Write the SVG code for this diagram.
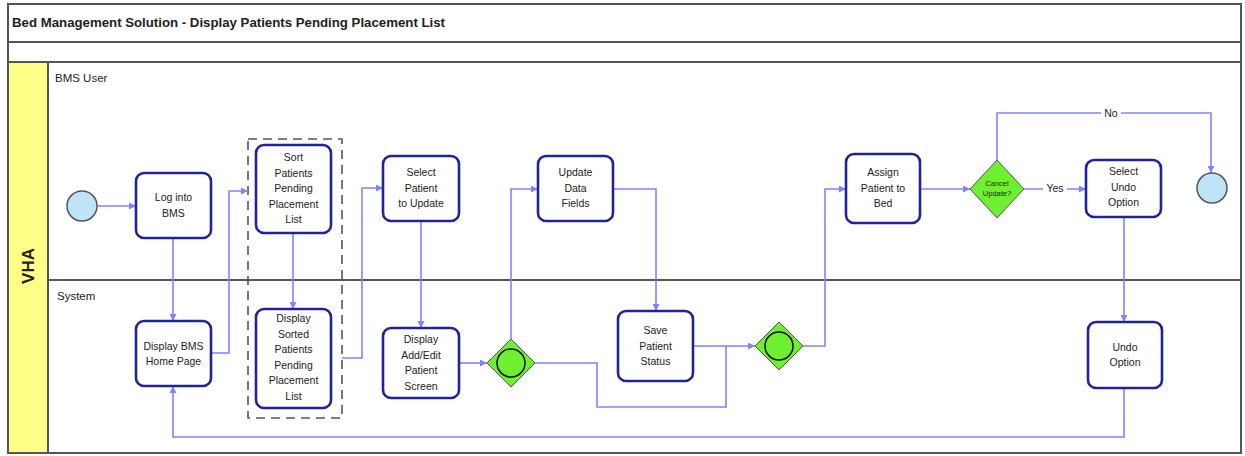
<svg xmlns="http://www.w3.org/2000/svg" width="1245" height="456" viewBox="0 0 1245 456">
<style>
.frame{fill:none;stroke:#555;stroke-width:2}
.task rect{fill:#fff;stroke:#22229a;stroke-width:2.6}
.task text,.lbl{font-family:"Liberation Sans",Arial,sans-serif;font-size:10.5px;fill:#222;text-anchor:middle}
.conn path{fill:none;stroke:#8282ff;stroke-width:1.6}
.gw polygon{fill:#6ef030;stroke:#555;stroke-width:1}
.gw circle{fill:#6ef030;stroke:#111;stroke-width:1.5}
.ev{fill:#bfe4f8;stroke:#555;stroke-width:1.5}
.lane{font-family:"Liberation Sans",Arial,sans-serif;font-size:11.5px;fill:#222}
</style>
<defs>
<marker id="ah" markerUnits="userSpaceOnUse" markerWidth="8" markerHeight="7" refX="7" refY="3.5" orient="auto">
<path d="M0,0 L7,3.5 L0,7 z" fill="#8282ff"/>
</marker>
</defs>
<rect x="0" y="0" width="1245" height="456" fill="#fff"/>
<g id="pool">
<rect x="8" y="62" width="40" height="391" fill="#ffff88"/>
<rect class="frame" x="8" y="4" width="1233" height="449"/>
<line class="frame" x1="8" y1="42" x2="1241" y2="42"/>
<line class="frame" x1="8" y1="62" x2="1241" y2="62"/>
<line class="frame" x1="48" y1="62" x2="48" y2="453"/>
<line class="frame" x1="48" y1="280" x2="1241" y2="280"/>
<text x="12" y="27" font-family="Liberation Sans,Arial,sans-serif" font-size="12px" font-weight="bold" fill="#222" textLength="433" lengthAdjust="spacingAndGlyphs">Bed Management Solution - Display Patients Pending Placement List</text>
<text transform="translate(34,266) rotate(-90)" font-family="Liberation Sans,Arial,sans-serif" font-size="17px" font-weight="bold" fill="#222" text-anchor="middle">VHA</text>
<text class="lane" x="55" y="82">BMS User</text>
<text class="lane" x="57" y="300">System</text>
</g>
<g id="group-sort"><rect x="248" y="139" width="94" height="279" fill="none" stroke="#555" stroke-width="1.6" stroke-dasharray="9,6"/></g>
<g class="conn" id="connectors">
<path d="M97,206 H136" marker-end="url(#ah)"/>
<path d="M173,238 V321" marker-end="url(#ah)"/>
<path d="M211,353 H229 V191 H248" marker-end="url(#ah)"/>
<path d="M293,233 V309" marker-end="url(#ah)"/>
<path d="M342,358 H362 V188 H383" marker-end="url(#ah)"/>
<path d="M421,221 V328" marker-end="url(#ah)"/>
<path d="M459,363 H487" marker-end="url(#ah)"/>
<path d="M511,339 V189 H538" marker-end="url(#ah)"/>
<path d="M613,189 H656 V311" marker-end="url(#ah)"/>
<path d="M693,346 H755" marker-end="url(#ah)"/>
<path d="M535,363 H597 V407 H726 V346"/>
<path d="M803,346 H825 V189 H846" marker-end="url(#ah)"/>
<path d="M920,189 H970" marker-end="url(#ah)"/>
<path d="M1024,189 H1086" marker-end="url(#ah)"/>
<path d="M997,160 V113 H1211 V173" marker-end="url(#ah)"/>
<path d="M1124,217 V322" marker-end="url(#ah)"/>
<path d="M1124,388 V437 H173 V386" marker-end="url(#ah)"/>
<rect x="1043" y="182" width="24" height="13" fill="#fff"/>
<text class="lbl" x="1055" y="192">Yes</text>
<rect x="1101" y="106" width="20" height="13" fill="#fff"/>
<text class="lbl" x="1111" y="117">No</text>
</g>
<g id="start"><circle class="ev" cx="82" cy="206" r="15"/></g>
<g id="end"><circle class="ev" cx="1212" cy="188" r="15"/></g>
<g class="task" id="log-into-bms"><rect x="136" y="173" width="75" height="65" rx="8"/><text x="173.5" y="201">Log into</text><text x="173.5" y="217">BMS</text></g>
<g class="task" id="display-home"><rect x="136" y="321" width="75" height="65" rx="8"/><text x="173.5" y="350">Display BMS</text><text x="173.5" y="365">Home Page</text></g>
<g class="task" id="sort-patients"><rect x="256" y="145" width="75" height="88" rx="8"/><text x="293.5" y="161">Sort</text><text x="293.5" y="176.5">Patients</text><text x="293.5" y="192">Pending</text><text x="293.5" y="207.5">Placement</text><text x="293.5" y="223">List</text></g>
<g class="task" id="display-sorted"><rect x="256" y="309" width="75" height="99" rx="8"/><text x="293.5" y="322">Display</text><text x="293.5" y="337.5">Sorted</text><text x="293.5" y="353">Patients</text><text x="293.5" y="368.5">Pending</text><text x="293.5" y="384">Placement</text><text x="293.5" y="400">List</text></g>
<g class="task" id="select-patient"><rect x="383" y="156" width="76" height="65" rx="8"/><text x="421" y="176">Select</text><text x="421" y="191.5">Patient</text><text x="421" y="207">to Update</text></g>
<g class="task" id="display-add-edit"><rect x="383" y="328" width="76" height="70" rx="8"/><text x="421" y="343">Display</text><text x="421" y="358.5">Add/Edit</text><text x="421" y="374">Patient</text><text x="421" y="390">Screen</text></g>
<g class="gw" id="gateway-1"><polygon points="511,339 535,363 511,387 487,363"/><circle cx="511" cy="363" r="14"/></g>
<g class="task" id="update-data"><rect x="538" y="156" width="75" height="65" rx="8"/><text x="575.5" y="176">Update</text><text x="575.5" y="191.5">Data</text><text x="575.5" y="207">Fields</text></g>
<g class="task" id="save-status"><rect x="618" y="311" width="75" height="70" rx="8"/><text x="655.5" y="334">Save</text><text x="655.5" y="349.5">Patient</text><text x="655.5" y="365">Status</text></g>
<g class="gw" id="gateway-2"><polygon points="779,322 803,346 779,370 755,346"/><circle cx="779" cy="346" r="14"/></g>
<g class="task" id="assign-bed"><rect x="846" y="154" width="74" height="69" rx="8"/><text x="883" y="176">Assign</text><text x="883" y="191.5">Patient to</text><text x="883" y="207">Bed</text></g>
<g class="gw" id="cancel-update"><polygon points="997,160 1024,189 997,218 970,189"/><text x="997" y="186" font-family="Liberation Sans,Arial,sans-serif" font-size="7.5px" fill="#222" text-anchor="middle">Cancel</text><text x="997" y="196" font-family="Liberation Sans,Arial,sans-serif" font-size="7.5px" fill="#222" text-anchor="middle">Update?</text></g>
<g class="task" id="select-undo"><rect x="1086" y="160" width="75" height="57" rx="8"/><text x="1123.5" y="175">Select</text><text x="1123.5" y="190.5">Undo</text><text x="1123.5" y="206">Option</text></g>
<g class="task" id="undo-option"><rect x="1088" y="322" width="74" height="66" rx="8"/><text x="1125" y="351">Undo</text><text x="1125" y="366">Option</text></g>
</svg>
